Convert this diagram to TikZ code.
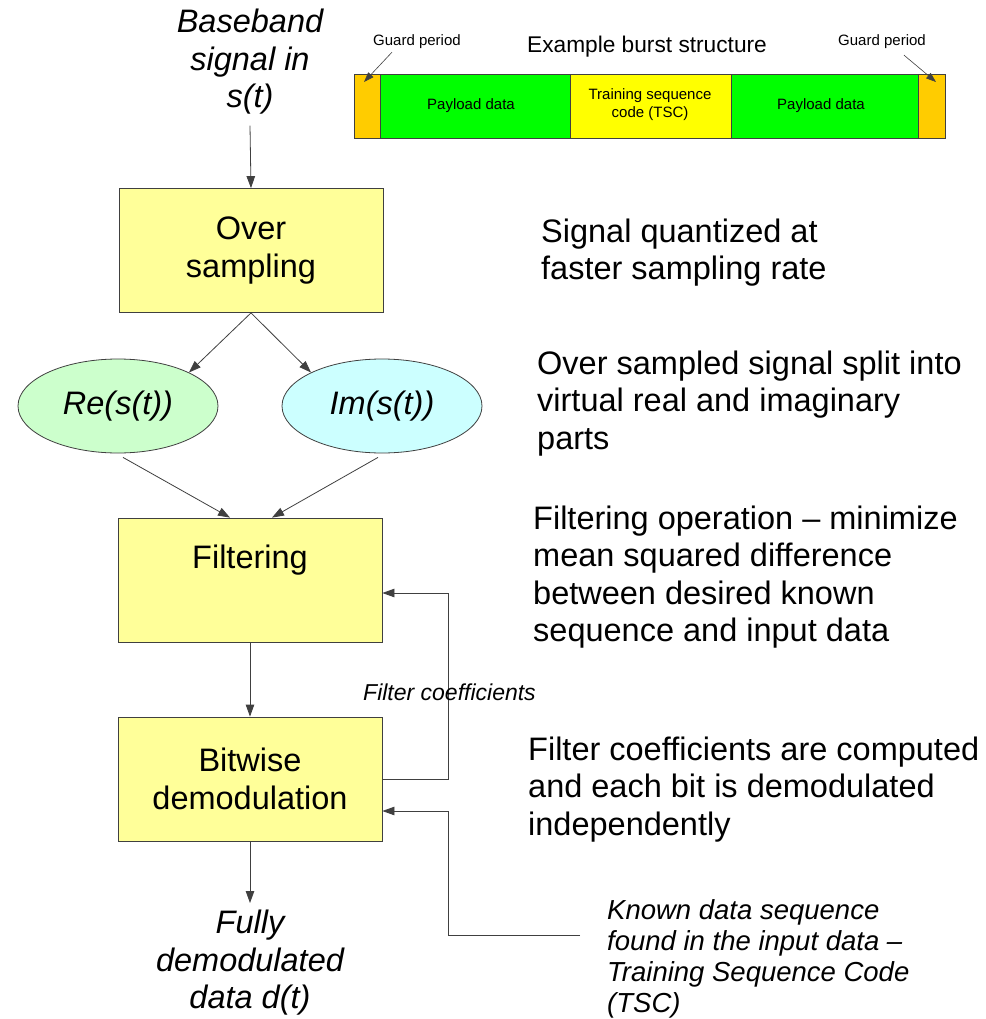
\documentclass[tikz,border=0pt]{standalone}
\usepackage{fontspec}
\setmainfont{Liberation Sans}
\usetikzlibrary{shapes.geometric,arrows.meta,calc}

\definecolor{boxyellow}{HTML}{FFFF99}
\definecolor{refill}{HTML}{CCFFCC}
\definecolor{imfill}{HTML}{CCFFFF}
\definecolor{guardcol}{HTML}{FFCC00}
\definecolor{payloadcol}{HTML}{00FF00}
\definecolor{tsccol}{HTML}{FFFF00}
\definecolor{edge}{HTML}{404040}

\begin{document}
\begin{tikzpicture}[x=1pt,y=-1pt,
  box/.style={draw=edge, line width=0.8pt, fill=boxyellow, minimum width=264pt,
    minimum height=124pt, inner sep=0pt, align=center,
    font=\fontsize{32.5}{37.5}\selectfont},
  oval/.style={ellipse, draw=edge, line width=0.8pt, minimum width=200pt,
    minimum height=94pt, inner sep=0pt, font=\fontsize{32.5}{37}\selectfont\itshape},
  arr/.style={draw=edge, line width=0.8pt, -{Triangle[length=12pt,width=8.5pt]}},
  thinarr/.style={draw=edge, line width=0.6pt, -{Triangle[length=10pt,width=7pt]}},
  note/.style={anchor=north west, inner sep=0pt, align=left,
    font=\fontsize{32.5}{37.2}\selectfont},
  io/.style={anchor=north, inner sep=0pt, align=center,
    font=\fontsize{32.5}{37.5}\selectfont\itshape},
  seg/.style={draw=edge, line width=0.8pt},
  small/.style={inner sep=0pt, align=center, font=\fontsize{15}{18}\selectfont}
]
\fill[white] (0,0) rectangle (985,1019);
\useasboundingbox (0,0) rectangle (985,1019);

% burst structure
\draw[seg, fill=guardcol]   (354,74) rectangle (380,138);
\draw[seg, fill=payloadcol] (380,74) rectangle (570,138);
\draw[seg, fill=tsccol]     (570,74) rectangle (731,138);
\draw[seg, fill=payloadcol] (731,74) rectangle (918,138);
\draw[seg, fill=guardcol]   (918,74) rectangle (945,138);
\node[small] (pay1) at (471,106) {Payload data};
\node[small] (tsc)  at (650,105) {Training sequence\\code (TSC)};
\node[small] (pay2) at (821,106) {Payload data};
\node[inner sep=0pt, font=\fontsize{22.7}{27}\selectfont] (title) at (647,47) {Example burst structure};
\node[small] (gl) at (417,42) {Guard period};
\node[small] (gr) at (882,42) {Guard period};
\coordinate (glt) at (364,82);
\coordinate (grt) at (936,82);
\draw[thinarr] (gl.south) ++(-25,3) -- (glt);
\draw[thinarr] (gr.south) ++(22,6) -- (grt);

% processing chain
\node[io] (in) at (250,9) {Baseband\\signal in\\s(t)};
\node[box] (over) at (251,250.5) {Over\\sampling};
\node[oval, fill=refill] (re) at (118,406) {Re(s(t))};
\node[oval, fill=imfill] (im) at (382,406) {Im(s(t))};
\node[box] (filt) at (250,580) {};
\node[inner sep=0pt, font=\fontsize{32.5}{37}\selectfont] (filtxt) at (250,560) {Filtering};
\node[box] (bit) at (250,779) {Bitwise\\demodulation};
\node[io] (out) at (250,910) {Fully\\demodulated\\data d(t)};

\draw[arr] ([yshift=-11pt]in.south) -- (over.north);
\draw[arr] (over.south) -- (re.north east);
\draw[arr] (over.south) -- (im.north west);
\draw[arr] ([xshift=5pt,yshift=-4pt]re.south) -- ([xshift=-20pt]filt.north);
\draw[arr] ([xshift=-4pt,yshift=-4pt]im.south) -- ([xshift=22pt]filt.north);
\draw[arr] (filt.south) -- (bit.north);
\draw[arr] (bit.south) -- ([yshift=7pt]out.north);

% feedback paths
\draw[arr] (bit.east) -- (448,779) |- ([yshift=-13pt]filt.east);
\node[anchor=west, inner sep=0pt, font=\fontsize{23}{27}\selectfont\itshape] (coef) at (363,692) {Filter coefficients};
\coordinate (kd) at (580,935);
\draw[arr] (kd) -- (448,935) |- ([yshift=-32pt]bit.east);

% explanations
\node[note] (n1) at (541,219) {Signal quantized at\\faster sampling rate};
\node[note] (n2) at (537,351) {Over sampled signal split into\\virtual real and imaginary\\parts};
\node[note] (n3) at (533,506) {Filtering operation -- minimize\\mean squared difference\\between desired known\\sequence and input data};
\node[note] (n4) at (528,737) {Filter coefficients are computed\\and each bit is demodulated\\independently};
\node[note, font=\fontsize{27.5}{31.2}\selectfont\itshape] (n5) at (607,899) {Known data sequence\\found in the input data --\\Training Sequence Code\\(TSC)};
\end{tikzpicture}
\end{document}
